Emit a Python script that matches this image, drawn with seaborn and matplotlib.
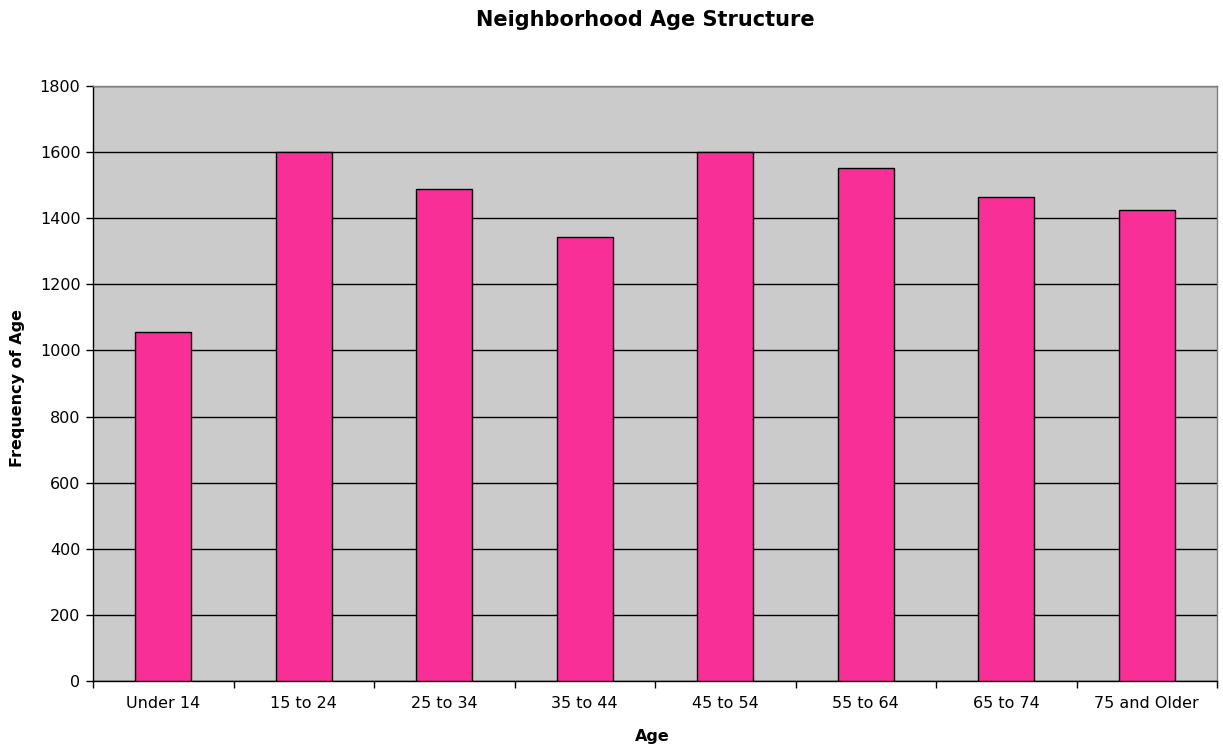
import matplotlib
matplotlib.use("Agg")
import matplotlib.pyplot as plt
import numpy as np
import pandas as pd
import seaborn as sns

# values
age_groups = ["Under 14", "15 to 24", "25 to 34", "35 to 44",
              "45 to 54", "55 to 64", "65 to 74", "75 and Older"]
frequency = [1055, 1600, 1487, 1344, 1600, 1552, 1463, 1424]
y_ticks = [0, 200, 400, 600, 800, 1000, 1200, 1400, 1600, 1800]

df = pd.DataFrame({"Age": age_groups, "Frequency": frequency})

sns.set_style("white")
plt.rcParams["font.family"] = ["DejaVu Sans"]
plt.rcParams["text.color"] = "black"
plt.rcParams["xtick.color"] = "black"
plt.rcParams["ytick.color"] = "black"

fig = plt.figure(figsize=(12.23, 7.47), dpi=100)
ax = fig.add_axes([93 / 1223, 1 - 681 / 747, (1217 - 93) / 1223, (681 - 86) / 747])

sns.barplot(data=df, x="Age", y="Frequency", color="#F72F97", saturation=1,
            width=0.4, edgecolor="black", linewidth=1, ax=ax, zorder=3)

ax.set_facecolor("#CBCBCB")
ax.set_xlim(-0.5, len(age_groups) - 0.5)
ax.set_ylim(0, 1800)
ax.set_yticks(y_ticks)
ax.set_yticklabels([str(t) for t in y_ticks], fontsize=11.5)
ax.yaxis.grid(True, color="black", linewidth=1, zorder=1)
ax.set_axisbelow(True)

# category labels centered, tick marks between categories
ax.set_xticks(range(len(age_groups)))
ax.set_xticklabels(age_groups, fontsize=11.5)
ax.set_xticks(np.arange(-0.5, len(age_groups)), minor=True)
ax.tick_params(axis="x", which="major", bottom=True, length=0, pad=11)
ax.tick_params(axis="x", which="minor", bottom=True, length=5, width=1,
               color="black", direction="out")
ax.tick_params(axis="y", left=True, length=5, width=1, color="black",
               direction="out", pad=4)

for side in ["left", "bottom"]:
    ax.spines[side].set_color("black")
    ax.spines[side].set_linewidth(1)
for side in ["top", "right"]:
    ax.spines[side].set_color("#808080")
    ax.spines[side].set_linewidth(1)

ax.set_xlabel("")
ax.set_ylabel("")
fig.text(645 / 1223, 1 - 20 / 747, "Neighborhood Age Structure", ha="center", va="center",
         fontsize=15, fontweight="bold", color="black")
fig.text(18 / 1223, 1 - 388 / 747, "Frequency of Age", ha="center", va="center",
         rotation=90, fontsize=11.5, fontweight="bold", color="black")
fig.text(652 / 1223, 1 - 737 / 747, "Age", ha="center", va="center",
         fontsize=11.5, fontweight="bold", color="black")

fig.savefig("out.png", dpi=100, facecolor="white")
